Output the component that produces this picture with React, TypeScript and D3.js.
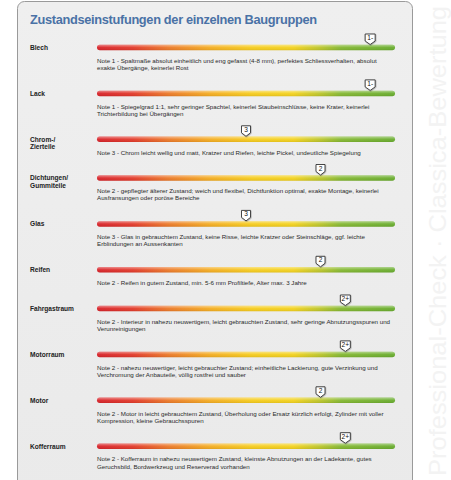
import React from "react";
import * as d3 from "d3";

const labels: string[][] = [
  ["Blech"],
  ["Lack"],
  ["Chrom-/", "Zierteile"],
  ["Dichtungen/", "Gummiteile"],
  ["Glas"],
  ["Reifen"],
  ["Fahrgastraum"],
  ["Motorraum"],
  ["Motor"],
  ["Kofferraum"],
];

const grades: string[] = ["1-", "1-", "3", "2", "3", "2", "2+", "2+", "2", "2+"];

const notes: string[][] = [
  [
    "Note 1 - Spaltmaße absolut einheitlich und eng gefasst (4-8 mm), perfektes Schliessverhalten, absolut",
    "exakte Übergänge, keinerlei Rost",
  ],
  [
    "Note 1 - Spiegelgrad 1:1, sehr geringer Spachtel, keinerlei Staubeinschlüsse, keine Krater, keinerlei",
    "Trichterbildung bei Übergängen",
  ],
  ["Note 3 - Chrom leicht wellig und matt, Kratzer und Riefen, leichte Pickel, undeutliche Spiegelung"],
  [
    "Note 2 - gepflegter älterer Zustand; weich und flexibel, Dichtfunktion optimal, exakte Montage, keinerlei",
    "Ausfransungen oder poröse Bereiche",
  ],
  [
    "Note 3 - Glas in gebrauchtem Zustand, keine Risse, leichte Kratzer oder Steinschläge, ggf. leichte",
    "Erblindungen an Aussenkanten",
  ],
  ["Note 2 - Reifen in gutem Zustand, min. 5-6 mm Profiltiefe, Alter max. 3 Jahre"],
  [
    "Note 2 - Interieur in nahezu neuwertigem, leicht gebrauchten Zustand, sehr geringe Abnutzungsspuren und",
    "Verunreinigungen",
  ],
  [
    "Note 2 - nahezu neuwertiger, leicht gebrauchter Zustand; einheitliche Lackierung, gute Verzinkung und",
    "Verchromung der Anbauteile, völlig rostfrei und sauber",
  ],
  [
    "Note 2 - Motor in leicht gebrauchtem Zustand, Überholung oder Ersatz kürzlich erfolgt, Zylinder mit voller",
    "Kompression, kleine Gebrauchsspuren",
  ],
  [
    "Note 2 - Kofferraum in nahezu neuwertigem Zustand, kleinste Abnutzungen an der Ladekante, gutes",
    "Geruchsbild, Bordwerkzeug und Reserverad vorhanden",
  ],
];

const title = "Zustandseinstufungen der einzelnen Baugruppen";
const watermark = "Professional-Check · Classica-Bewertung";
const scaleDomain: [number, number] = [5, 1];

function gradeValue(g: string): number {
  const n = parseFloat(g);
  if (g.endsWith("+")) return n - 1 / 3;
  if (g.endsWith("-")) return n + 1 / 3;
  return n;
}

const W = 451;
const H = 480;
const FONT = "'Liberation Sans', Arial, Helvetica, sans-serif";

export default function App() {
  const x = d3.scaleLinear().domain(scaleDomain).range([97, 395]);

  const rowY: number[] = [];
  let y = 47.5;
  notes.forEach((n) => {
    rowY.push(y);
    y += 31.5 + 7.2 * n.length;
  });

  const barH = 5.5;
  const stops = [
    [0, "#d8232a"],
    [0.12, "#e33a2b"],
    [0.24, "#ec7a29"],
    [0.38, "#f4ad22"],
    [0.52, "#f6cc1e"],
    [0.66, "#f3d21f"],
    [0.74, "#c2c72a"],
    [0.82, "#84b832"],
    [1, "#69ad2f"],
  ];

  return (
    <svg
      width={W}
      height={H}
      viewBox={`0 0 ${W} ${H}`}
      style={{ position: "fixed", left: 0, top: 0, background: "#ffffff" }}
    >
      <defs>
        <linearGradient id="barGrad" x1="0" x2="1" y1="0" y2="0">
          {stops.map(([o, c], i) => (
            <stop key={i} offset={o as number} stopColor={c as string} />
          ))}
        </linearGradient>
        <linearGradient id="gloss" x1="0" x2="0" y1="0" y2="1">
          <stop offset="0" stopColor="#ffffff" stopOpacity={0.45} />
          <stop offset="0.5" stopColor="#ffffff" stopOpacity={0.05} />
          <stop offset="1" stopColor="#000000" stopOpacity={0.08} />
        </linearGradient>
        <linearGradient id="panelGrad" x1="0" x2="0" y1="0" y2="1">
          <stop offset="0" stopColor="#efefef" />
          <stop offset="1" stopColor="#eaeaea" />
        </linearGradient>
        <filter id="shadow" x="-20%" y="-20%" width="150%" height="150%">
          <feDropShadow dx="0.5" dy="0.6" stdDeviation="0.6" floodColor="#000" floodOpacity="0.35" />
        </filter>
      </defs>

      {/* watermark */}
      <text
        transform="translate(446,476) rotate(-90)"
        fill="#f3f3f3"
        fontFamily={FONT}
        fontSize={24}
        textLength={470}
        lengthAdjust="spacingAndGlyphs"
      >
        {watermark}
      </text>

      {/* panel */}
      <rect x={17.5} y={1.5} width={395} height={500} rx={7} fill="url(#panelGrad)" stroke="#9a9a9a" strokeWidth={1} />

      <text
        x={30}
        y={24}
        fill="#4a72a6"
        fontFamily={FONT}
        fontWeight="bold"
        fontSize={12.8}
        textLength={287}
        lengthAdjust="spacing"
      >
        {title}
      </text>

      {labels.map((lab, i) => {
        const cy = rowY[i];
        const cx = x(gradeValue(grades[i]));
        const w = grades[i].length > 1 ? 10 : 9;
        const top = cy - 13.5;
        const bot = cy - 6.5;
        const tip = cy - 3;
        return (
          <g key={i}>
            {lab.map((l, j) => (
              <text
                key={j}
                x={30}
                y={cy + 2.3 + j * 7.5}
                fontFamily={FONT}
                fontWeight="bold"
                fontSize={6.6}
                fill="#222"
              >
                {l}
              </text>
            ))}
            <rect
              x={x.range()[0]}
              y={cy - barH / 2}
              width={x.range()[1] - x.range()[0]}
              height={barH}
              rx={barH / 2}
              fill="url(#barGrad)"
            />
            <rect
              x={x.range()[0]}
              y={cy - barH / 2}
              width={x.range()[1] - x.range()[0]}
              height={barH}
              rx={barH / 2}
              fill="url(#gloss)"
            />
            <path
              d={`M${cx - w / 2},${top} H${cx + w / 2} V${bot} L${cx},${tip} L${cx - w / 2},${bot} Z`}
              fill="#ffffff"
              stroke="#333"
              strokeWidth={0.9}
              strokeLinejoin="round"
              filter="url(#shadow)"
            />
            <text
              x={cx}
              y={top + 6}
              textAnchor="middle"
              fontFamily={FONT}
              fontSize={6.6}
              fill="#111"
            >
              {grades[i]}
            </text>
            {notes[i].map((n, j) => (
              <text
                key={j}
                x={97}
                y={cy + 15.2 + j * 7.2}
                fontFamily={FONT}
                fontSize={6.2}
                fill="#2a2a2a"
              >
                {n}
              </text>
            ))}
          </g>
        );
      })}
    </svg>
  );
}
